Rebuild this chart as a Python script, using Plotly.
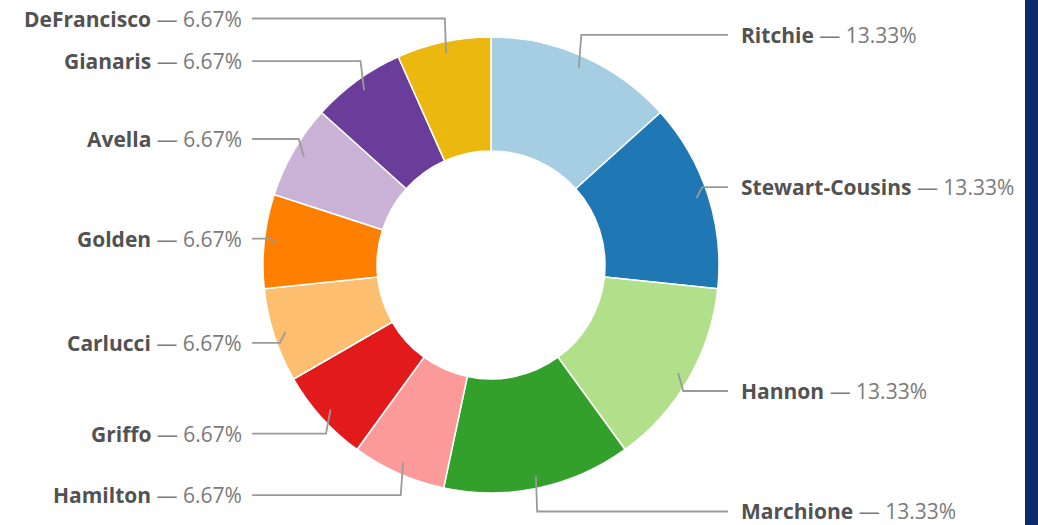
import math
import plotly.graph_objects as go

names = ["Ritchie", "Stewart-Cousins", "Hannon", "Marchione", "Hamilton", "Griffo",
         "Carlucci", "Golden", "Avella", "Gianaris", "DeFrancisco"]
values = [2, 2, 2, 2, 1, 1, 1, 1, 1, 1, 1]
colors = ["#a6cee3", "#1f78b4", "#b2df8a", "#33a02c", "#fb9a99", "#e31a1c",
          "#fdbf6f", "#ff7f00", "#cab2d6", "#6a3d9a", "#ebb80f"]

W, H = 1038, 525
CX, CY, R = 491, 265, 228

def px(x):
    return x / W

def py(y):
    return 1 - y / H

fig = go.Figure()
fig.add_trace(go.Pie(
    labels=names, values=values, sort=False, direction="clockwise", rotation=0,
    hole=0.5, textinfo="none", hoverinfo="label+percent",
    marker=dict(colors=colors, line=dict(color="white", width=1.5)),
    domain=dict(x=[px(CX - R), px(CX + R)], y=[py(CY + R), py(CY - R)]),
    showlegend=False,
))

total = sum(values)
shapes = []
annotations = []
cum = 0
for name, v in zip(names, values):
    mid = (cum + v / 2) / total * 2 * math.pi
    cum += v
    pct = v / total * 100
    s, c = math.sin(mid), math.cos(mid)
    ax, ay = CX + 216 * s, CY - 216 * c
    ly = CY - 252 * c
    bx = CX + 222 * s
    right = s >= 0
    ex = CX + 237 if right else CX - 239
    tx = CX + 248 if right else CX - 247
    path = f"M {px(ax)} {py(ay)} L {px(bx)} {py(ly)} L {px(ex)} {py(ly)}"
    shapes.append(dict(type="path", xref="paper", yref="paper", path=path,
                       line=dict(color="#9a9a9a", width=1.8)))
    annotations.append(dict(
        x=px(tx), y=py(ly), xref="paper", yref="paper", showarrow=False,
        xanchor="left" if right else "right", yanchor="middle",
        text=f"<b>{name}</b> <span style='color:#7a7a7a'>— {pct:.2f}%</span>",
        font=dict(family="Open Sans", size=21, color="#525252"),
    ))

# dark blue strip at the right edge of the page
shapes.append(dict(type="rect", xref="paper", yref="paper", x0=px(1025), x1=1.02,
                   y0=0, y1=1, fillcolor="#0c2d6b", line=dict(width=0), layer="above"))

fig.update_layout(
    width=W, height=H, margin=dict(l=0, r=0, t=0, b=0),
    paper_bgcolor="white", plot_bgcolor="white",
    shapes=shapes, annotations=annotations,
)
fig.write_html("out.html", config={"displayModeBar": False},
               post_script="document.body.style.margin='0';document.body.style.overflow='hidden';"
                           "document.documentElement.style.background='#0c2d6b';"
                           "document.body.style.background='#0c2d6b';")
